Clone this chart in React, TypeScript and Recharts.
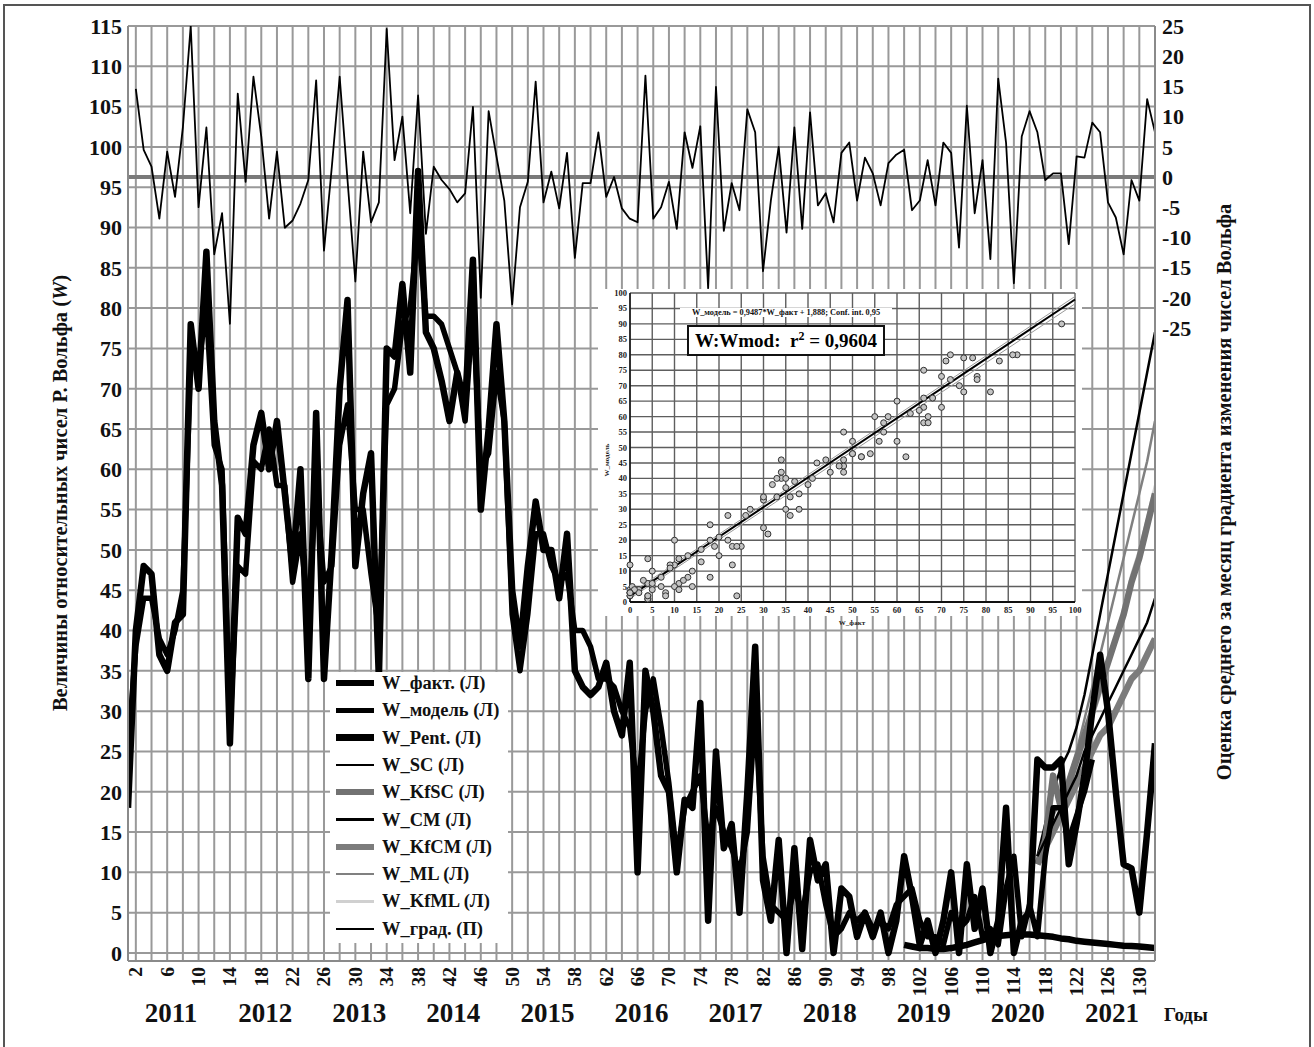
import React from 'react';
import {
  ComposedChart, Line, XAxis, YAxis, CartesianGrid, ReferenceLine,
  ScatterChart, Scatter,
} from 'recharts';

const FONT = "'Liberation Serif', 'Times New Roman', serif";

// Month numbers 1..132 (Jan 2011 .. Dec 2021)
const months: number[] = Array.from({ length: 132 }, (_, i) => i + 1);
const years = ['2011', '2012', '2013', '2014', '2015', '2016', '2017', '2018', '2019', '2020', '2021'];
const leftTicks = [0, 5, 10, 15, 20, 25, 30, 35, 40, 45, 50, 55, 60, 65, 70, 75, 80, 85, 90, 95, 100, 105, 110, 115];
const rightTicks = [-25, -20, -15, -10, -5, 0, 5, 10, 15, 20, 25];
const insetTicks = [0, 5, 10, 15, 20, 25, 30, 35, 40, 45, 50, 55, 60, 65, 70, 75, 80, 85, 90, 95, 100];

// W_факт (months 1..132)
const wFact = [
  18, 40, 48, 47, 37, 35, 41, 42, 78, 70,
  87, 66, 58, 26, 54, 52, 63, 67, 60, 66,
  57, 48, 60, 34, 67, 34, 50, 70, 81, 48,
  57, 62, 34, 75, 74, 83, 72, 97, 77, 75,
  71, 66, 72, 68, 86, 55, 65, 78, 66, 45,
  38, 48, 56, 50, 50, 44, 52, 35, 33, 32,
  33, 36, 30, 27, 36, 10, 35, 30, 22, 20,
  10, 19, 18, 31, 4, 25, 13, 16, 5, 20,
  38, 9, 4, 14, 0, 13, 0.5, 14, 9, 11,
  0, 8, 7, 2, 5, 2, 5, 0, 4, 12,
  7, 1, 4, 0, 4, 10, 0, 11, 3, 8,
  0, 4, 18, 0, 4, 5, 24, 23, 23, 24,
  11, 16, 22, 30, 37, 30, 20, 11, 10.5, 5,
  15, 26,
];
// W_модель (months 1..124)
const wModel = [
  25, 38, 44, 44, 39, 37, 40, 45, 73, 73,
  80, 63, 60, 28, 48, 47, 61, 60, 65, 58,
  58, 46, 52, 42, 58, 46, 48, 63, 68, 55,
  55, 47, 40, 68, 70, 78, 80, 90, 79, 79,
  78, 75, 72, 66, 80, 60, 62, 72, 66, 42,
  35, 42, 52, 52, 48, 46, 47, 40, 40, 38,
  34, 34, 33, 30, 28, 20, 30, 34, 28, 21,
  12, 18, 20, 22, 14, 18, 15, 13, 10, 15,
  30, 12, 6, 5, 4, 8, 5, 10, 11, 6,
  2, 3, 5, 4, 5, 3, 4, 3, 6, 7,
  8, 4, 2, 2, 1, 5, 3, 4, 7, 2,
  3, 1, 8, 12, 2, 6, 2, 12, 18, 18,
  14, 17, 20, 24,
];
// W_Pent (months 100..132)
const pentStart = 100;
const wPent = [
  1.0, 0.8, 0.6, 0.6, 0.5, 0.5, 0.6, 0.8, 1.0, 1.3,
  1.6, 1.9, 2.1, 2.2, 2.3, 2.3, 2.3, 2.2, 2.1, 2.0,
  1.8, 1.7, 1.5, 1.4, 1.3, 1.2, 1.1, 1.0, 0.9, 0.85,
  0.8, 0.7, 0.6,
];
// Forecasts (months 117..132)
const fcStart = 117;
const wSC = [12, 14, 16, 18, 20, 22, 25, 27, 29, 31, 33, 35, 37, 39, 41, 44];
const wKfSC = [11, 14, 22, 18, 21, 24, 27, 30, 33, 36, 39, 42, 46, 49, 53, 57];
const wCM = [12, 16, 20, 23, 25, 28, 32, 37, 42, 47, 52, 57, 62, 67, 72, 77];
const wKfCM = [11, 13, 15, 17, 19, 21, 23, 25, 27, 28, 30, 32, 34, 35, 37, 39];
const wML = [12, 14, 17, 19, 22, 25, 29, 33, 37, 41, 45, 49, 53, 57, 61, 66];
const wKfML = [12, 14, 16, 18, 20, 23, 26, 29, 32, 36, 39, 43, 47, 50, 54, 58];
// W_град (right axis, months 1..132)
const wGrad = [
  null, 14.6, 4.5, 1.7, -6.9, 4.2, -3.3, 8.2, 25, -5,
  8.2, -12.8, -6, -24.3, 13.8, -0.8, 16.6, 6.7, -6.9, 4.2,
  -8.4, -7.2, -4.4, -0.5, 16, -12.2, 1.7, 16.6, -0.5, -17.3,
  4.2, -7.5, -4.2, 24.5, 2.8, 10, -6, 13.5, -9.4, 1.7,
  -0.5, -2, -4.2, -2.7, 11.6, -20, 10.9, 3.4, -3.9, -21.1,
  -5, -0.8, 15.8, -4.2, 0.9, -5.2, 4, -13.4, -1, -1,
  7.4, -3.3, 0, -5.2, -6.9, -7.5, 16.8, -6.9, -5, -0.8,
  -8.6, 7.4, 1.5, 8.4, -18.4, 14.9, -8.9, -1, -5.5, 11.2,
  7.4, -15.6, -3.9, 5, -9.2, 8.2, -8.6, 10.7, -4.7, -2.7,
  -7.5, 4, 5.7, -3.9, 3.2, 0.6, -4.7, 2.3, 3.7, 4.5,
  -5.5, -3.9, 2.8, -4.7, 5.7, 4, -11.7, 11.8, -6, 2.8,
  -13.6, 16.3, 5.7, -17.6, 6.7, 10.9, 7.4, -0.5, 0.6, 0.6,
  -11.1, 3.4, 3.2, 9, 7.4, -4.2, -6.7, -12.8, -0.5, -3.9,
  12.9, 7.4,
];

// Regression of inset
const regSlope = 0.96;
const regIntercept = 1.9;
const confUpper = [2.7, 98.9];
const confLower = [1.1, 96.5];

const series = [
  { key: 'fact', name: 'W_факт. (Л)', color: '#000', w: 6.5, axis: 'left' },
  { key: 'model', name: 'W_модель (Л)', color: '#000', w: 5.5, axis: 'left' },
  { key: 'pent', name: 'W_Pent. (Л)', color: '#000', w: 6.5, axis: 'left' },
  { key: 'sc', name: 'W_SC (Л)', color: '#000', w: 2.5, axis: 'left' },
  { key: 'kfsc', name: 'W_KfSC (Л)', color: '#727272', w: 6.5, axis: 'left' },
  { key: 'cm', name: 'W_CM (Л)', color: '#000', w: 2.5, axis: 'left' },
  { key: 'kfcm', name: 'W_KfCM (Л)', color: '#7c7c7c', w: 6.5, axis: 'left' },
  { key: 'ml', name: 'W_ML (Л)', color: '#808080', w: 2.5, axis: 'left' },
  { key: 'kfml', name: 'W_KfML (Л)', color: '#d0d0d0', w: 2.5, axis: 'left' },
  { key: 'grad', name: 'W_град. (П)', color: '#000', w: 1.8, axis: 'right' },
];

const fc = (arr: number[], m: number) => (m >= fcStart ? arr[m - fcStart] : null);

const rows = months.map((m, i) => ({
  m,
  fact: wFact[i],
  model: i < wModel.length ? wModel[i] : null,
  pent: m >= pentStart ? wPent[m - pentStart] : null,
  sc: fc(wSC, m),
  kfsc: fc(wKfSC, m),
  cm: fc(wCM, m),
  kfcm: fc(wKfCM, m),
  ml: fc(wML, m),
  kfml: fc(wKfML, m),
  grad: wGrad[i],
}));

const evenMonths = months.filter((m) => m % 2 === 0);
const yearCenters = years.map((_, k) => 6.5 + 12 * k);
const pairs = wModel.map((v, i) => ({ x: wFact[i], y: v }));

const MonthTick = (props: any) => {
  const { x, y, payload } = props;
  const v = payload.value;
  if ((v - 2) % 4 !== 0 || v > 130) return <g />;
  return (
    <text x={x} y={y} transform={`rotate(-90, ${x}, ${y})`} textAnchor="end" dominantBaseline="central"
      style={{ fontFamily: FONT, fontWeight: 'bold', fontSize: 19.5, fill: '#111' }}>
      {v}
    </text>
  );
};

const YearTick = (props: any) => {
  const { x, y, index } = props;
  return (
    <text x={x} y={y + 21} textAnchor="middle"
      style={{ fontFamily: FONT, fontWeight: 'bold', fontSize: 27, fill: '#111' }}>
      {years[index]}
    </text>
  );
};

const Dot = (props: any) => {
  const { cx, cy } = props;
  return <circle cx={cx} cy={cy} r={3} fill="#c4c4c4" stroke="#333" strokeWidth={1} />;
};

const tickStyle = { fontFamily: FONT, fontWeight: 'bold' as const, fontSize: 22, fill: '#111' };
const insetTick = { fontFamily: FONT, fontWeight: 'bold' as const, fontSize: 8.5, fill: '#222' };

export default function App() {
  return (
    <div style={{ position: 'absolute', left: 0, top: 0, width: 1314, height: 1047, background: '#fff', overflow: 'hidden' }}>
      <ComposedChart width={1314} height={1047} data={rows} margin={{ top: 26, right: 0, bottom: 6, left: 0 }}>
        <CartesianGrid yAxisId="left" stroke="#999" strokeWidth={2} />
        <XAxis dataKey="m" type="number" domain={[1, 132]} ticks={evenMonths} interval={0} allowDataOverflow
          height={40} tickSize={0} tickMargin={6} tickLine={false}
          axisLine={{ stroke: '#8a8a8a', strokeWidth: 2 }} tick={(p: any) => <MonthTick {...p} />} />
        <XAxis xAxisId="years" dataKey="m" type="number" domain={[1, 132]} ticks={yearCenters} interval={0}
          height={40} tickSize={0} tickMargin={0} tickLine={false} axisLine={false}
          tick={(p: any) => <YearTick {...p} />} />
        <YAxis yAxisId="left" type="number" domain={[-1, 115]} ticks={leftTicks} interval={0} allowDataOverflow
          width={128} tickSize={0} tickMargin={6} tickLine={false}
          axisLine={{ stroke: '#8a8a8a', strokeWidth: 2 }} tick={tickStyle} />
        <YAxis yAxisId="right" orientation="right" type="number" domain={[-129.8, 25]} ticks={rightTicks} interval={0}
          allowDataOverflow width={159} tickSize={0} tickMargin={7} tickLine={false}
          axisLine={{ stroke: '#8a8a8a', strokeWidth: 2 }} tick={tickStyle} />
        <ReferenceLine yAxisId="right" y={0} stroke="#7a7a7a" strokeWidth={4} />
        {series.slice().reverse().map((s) => (
          <Line key={s.key} yAxisId={s.axis} dataKey={s.key} name={s.name} type="linear"
            stroke={s.color} strokeWidth={s.w} dot={false} activeDot={false}
            isAnimationActive={false} connectNulls={false} strokeLinejoin="round" />
        ))}
      </ComposedChart>

      {/* Inset scatter */}
      <div style={{ position: 'absolute', left: 598, top: 289, width: 484, height: 327, background: '#fff' }} />
      <div style={{ position: 'absolute', left: 600, top: 283 }}>
        <ScatterChart width={490} height={345} margin={{ top: 10, right: 15, bottom: 0, left: 0 }}>
          <CartesianGrid stroke="#5e5e5e" strokeWidth={1.4} />
          <XAxis type="number" dataKey="x" domain={[0, 100]} ticks={insetTicks} interval={0} height={26}
            tickSize={0} tickMargin={5} tickLine={false} axisLine={{ stroke: '#111', strokeWidth: 2 }} tick={insetTick} />
          <YAxis type="number" dataKey="y" domain={[0, 100]} ticks={insetTicks} interval={0} width={30}
            tickSize={0} tickMargin={3} tickLine={false} axisLine={{ stroke: '#111', strokeWidth: 1.5 }} tick={insetTick} />
          <ReferenceLine segment={[{ x: 0, y: confUpper[0] }, { x: 100, y: confUpper[1] }]} stroke="#999" strokeWidth={1} />
          <ReferenceLine segment={[{ x: 0, y: confLower[0] }, { x: 100, y: confLower[1] }]} stroke="#999" strokeWidth={1} />
          <Scatter data={pairs} shape={(p: any) => <Dot {...p} />} isAnimationActive={false} />
          <ReferenceLine segment={[{ x: 0, y: regIntercept }, { x: 100, y: regIntercept + regSlope * 100 }]} stroke="#000" strokeWidth={2} />
        </ScatterChart>
      </div>
      <div style={{ position: 'absolute', left: 680, top: 308, width: 212, textAlign: 'center', fontFamily: FONT, fontWeight: 'bold', fontSize: 8.3, color: '#111', whiteSpace: 'nowrap', background: '#fff' }}>
        W_модель = 0,9487*W_факт + 1,888; Conf. int. 0,95
      </div>
      <div style={{ position: 'absolute', left: 687, top: 325, width: 194, height: 27, border: '2px solid #111', background: '#fff', fontFamily: FONT, fontWeight: 'bold', fontSize: 19, color: '#000', textAlign: 'center', lineHeight: '27px', whiteSpace: 'nowrap' }}>
        W:Wmod:&nbsp; r<sup style={{ fontSize: 12, lineHeight: 0 }}>2</sup> = 0,9604
      </div>

      {/* Legend */}
      <div style={{ position: 'absolute', left: 330, top: 672, width: 178, height: 271, background: '#fff' }}>
        {series.map((s, i) => (
          <div key={s.key} style={{ position: 'absolute', left: 0, top: 11 + i * 27.3 - 10, height: 20, width: 178 }}>
            <div style={{ position: 'absolute', left: 6, top: 10 - s.w / 2, width: 38, height: s.w, background: s.color }} />
            <div style={{ position: 'absolute', left: 52, top: 0, lineHeight: '20px', fontFamily: FONT, fontWeight: 'bold', fontSize: 18.5, color: '#111', whiteSpace: 'nowrap' }}>
              {s.name}
            </div>
          </div>
        ))}
      </div>

      {/* Titles and frame */}
      <svg width={1314} height={1047} style={{ position: 'absolute', left: 0, top: 0, pointerEvents: 'none' }}>
        <rect x={4} y={5} width={1306} height={1060} fill="none" stroke="#555" strokeWidth={2} />
        <text transform="rotate(-90)" x={-493} y={67} textAnchor="middle"
          style={{ fontFamily: FONT, fontWeight: 'bold', fontSize: 20.5, fill: '#111' }}>
          Величины относительных чисел  Р. Вольфа (<tspan fontStyle="italic">W</tspan>)
        </text>
        <text transform="rotate(-90)" x={-492} y={1231} textAnchor="middle"
          style={{ fontFamily: FONT, fontWeight: 'bold', fontSize: 20.5, fill: '#111' }}>
          Оценка среднего за месяц градиента изменения чисел Вольфа
        </text>
        <text x={1164} y={1021} style={{ fontFamily: FONT, fontWeight: 'bold', fontSize: 19, fill: '#111' }}>Годы</text>
        <text transform="rotate(-90)" x={-460} y={609} textAnchor="middle"
          style={{ fontFamily: FONT, fontWeight: 'bold', fontSize: 7, fill: '#222' }}>W_модель</text>
        <text x={852} y={625} textAnchor="middle"
          style={{ fontFamily: FONT, fontWeight: 'bold', fontSize: 7, fill: '#222' }}>W_факт</text>
      </svg>
    </div>
  );
}
